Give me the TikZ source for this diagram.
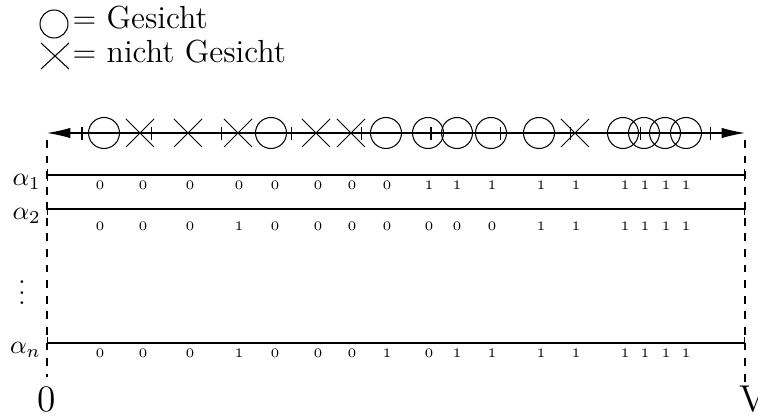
\documentclass[tikz,border=0pt]{standalone}
\usepackage{amsmath, amssymb}
\usetikzlibrary{arrows.meta}

\begin{document}
\begin{tikzpicture}[x=0.385pt,y=-0.385pt]
  \useasboundingbox (0,0) rectangle (758,417);

  % Legend
  \draw (54,24) circle (14);
  \node[anchor=base west,inner sep=0pt,font=\fontsize{12.3}{14}\selectfont] (lgo) at (72,29) {$=$ Gesicht};
  \draw (41,43) -- (69,69) (41,69) -- (69,43);
  \node[anchor=base west,inner sep=0pt,font=\fontsize{12.3}{14}\selectfont] (lgx) at (72,63) {$=$ nicht Gesicht};

  % Borders 0 and V
  \node[font=\Large] (zero) at (47,399) {0};
  \node[font=\Large] (vee) at (753,399) {V};
  \draw[dashed] (47,140) -- (zero);
  \draw[dashed] (745,140) -- (745,385);

  % Samples on the axis
  \coordinate (tl) at (47,133);
  \coordinate (tr) at (745,133);
  \draw[{Latex[length=9pt,width=4pt]}-{Latex[length=9pt,width=4pt]}] (tl) -- (tr);
  \foreach \k in {0,...,9} \draw (82+69.8*\k,127) -- (82+69.8*\k,140);
  \foreach \x in {104,271,386,428,457,491,539,623,644,665,686} \draw (\x,133) circle (15.5);
  \foreach \x in {140,188,238,316,351,575} \draw (\x-14,119) -- (\x+14,147) (\x-14,147) -- (\x+14,119);

  % Classifiers
  \node[anchor=base east,inner sep=1pt] (a1) at (44,186) {$\alpha_1$};
  \node[anchor=base east,inner sep=1pt] (a2) at (44,220) {$\alpha_2$};
  \node (dots) at (22,285) {$\vdots$};
  \node[anchor=base east,inner sep=1pt] (an) at (44,354) {$\alpha_n$};
  \foreach \y in {175,209,343} \draw[|-|] (47,\y) -- (745,\y);

  % Outputs
  \foreach \x/\a/\b/\c [count=\i] in {100/0/0/0,143/0/0/0,190/0/0/0,239/0/1/1,275/0/0/0,
      318/0/0/0,352/0/0/0,387/0/0/1,429/1/0/0,457/1/0/1,492/1/0/1,541/1/1/1,576/1/1/1,
      625/1/1/1,645/1/1/1,666/1/1/1,686/1/1/1} {
    \node[font=\tiny] (o1-\i) at (\x,185) {\a};
    \node[font=\tiny] (o2-\i) at (\x,226) {\b};
    \node[font=\tiny] (on-\i) at (\x,353) {\c};
  }
\end{tikzpicture}
\end{document}
